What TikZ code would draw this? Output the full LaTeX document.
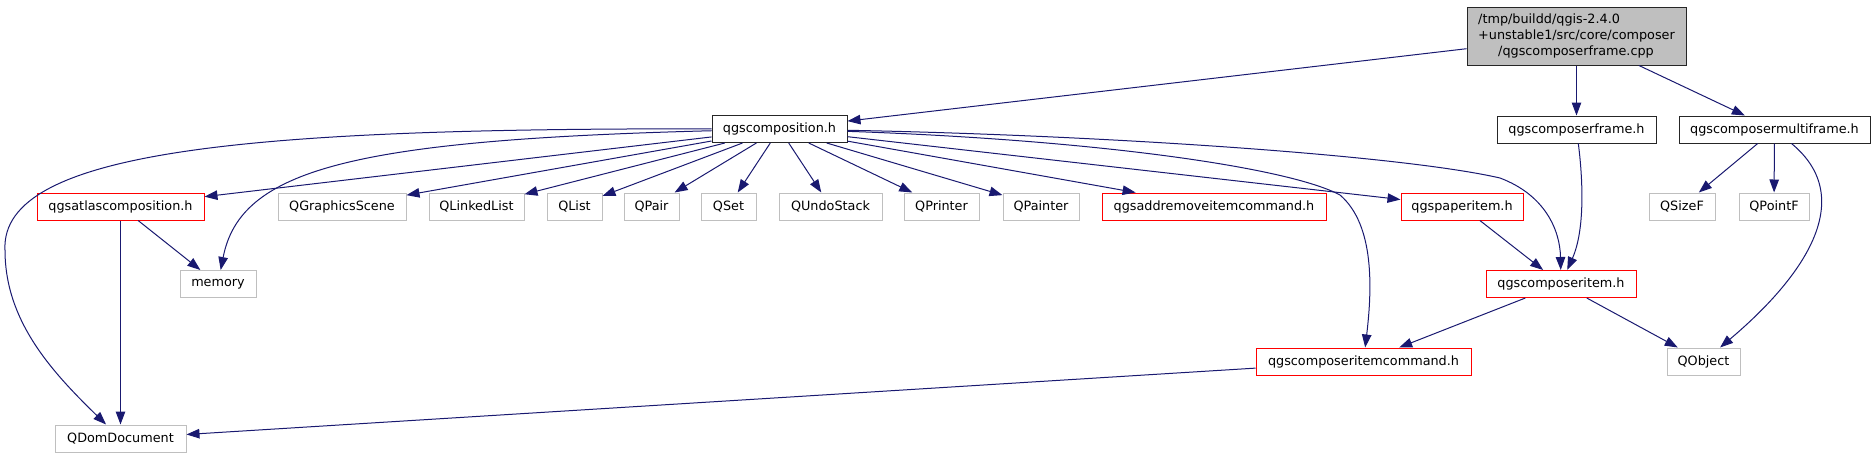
\documentclass[tikz,border=0pt]{standalone}
\usepackage{fontspec}
\setmainfont{DejaVu Sans}
\usepackage{xcolor}
\usepackage{tikz}
\usetikzlibrary{arrows.meta}
\definecolor{depblue}{RGB}{25,25,112}
\definecolor{sysgray}{RGB}{191,191,191}

\begin{document}
\begin{tikzpicture}[x=1pt, y=-1pt, >={Triangle[length=13pt,width=9.5pt]},
   inc/.style={draw=black!85, line width=1pt, fill=white, inner sep=0pt,
               minimum height=27pt, font=\fontsize{12.8}{16}\selectfont},
   incr/.style={inc, draw=red},
   sys/.style={inc, draw=sysgray},
   dep/.style={->, draw=depblue, line width=1pt}]
  \useasboundingbox (0,0) rectangle (1874,459);
  % top row
  \node[inc, fill=sysgray, minimum width=219pt, minimum height=58pt, align=left] (root) at (1576.5,36)
    {/tmp/buildd/qgis-2.4.0\\+unstable1/src/core/composer\\\hspace*{20pt}/qgscomposerframe.cpp};
  \node[inc, minimum width=135pt] (comp) at (779.5,129) {qgscomposition.h};
  \node[inc, minimum width=159pt] (cframe) at (1576.5,129.5) {qgscomposerframe.h};
  \node[inc, minimum width=191pt] (mframe) at (1774.5,129.5) {qgscomposermultiframe.h};
  % second row
  \node[incr, minimum width=167pt] (atlas) at (120.5,206.5) {qgsatlascomposition.h};
  \node[sys, minimum width=128pt] (gscene) at (342,206.5) {QGraphicsScene};
  \node[sys, minimum width=95pt] (llist) at (476.5,206.5) {QLinkedList};
  \node[sys, minimum width=55pt] (qlist) at (574.5,206.5) {QList};
  \node[sys, minimum width=55pt] (qpair) at (651.5,206.5) {QPair};
  \node[sys, minimum width=55pt] (qset) at (728.5,206.5) {QSet};
  \node[sys, minimum width=103pt] (undo) at (830.5,206.5) {QUndoStack};
  \node[sys, minimum width=75pt] (printer) at (941.5,206.5) {QPrinter};
  \node[sys, minimum width=76pt] (painter) at (1041,206.5) {QPainter};
  \node[incr, minimum width=224pt] (addrm) at (1214,206.5) {qgsaddremoveitemcommand.h};
  \node[incr, minimum width=122pt] (paper) at (1462,206.5) {qgspaperitem.h};
  \node[sys, minimum width=66pt] (sizef) at (1682,206.5) {QSizeF};
  \node[sys, minimum width=70pt] (pointf) at (1774,206.5) {QPointF};
  % lower rows
  \node[sys, minimum width=76pt] (mem) at (218,284) {memory};
  \node[incr, minimum width=150pt] (citem) at (1561,284) {qgscomposeritem.h};
  \node[incr, minimum width=215pt] (cicmd) at (1363.5,361.5) {qgscomposeritemcommand.h};
  \node[sys, minimum width=73pt] (qobj) at (1703.5,361.5) {QObject};
  \node[sys, minimum width=131pt] (dom) at (120.5,438.5) {QDomDocument};
  % edges
  \draw[dep] (root) -- (comp);
  \draw[dep] (root) -- (cframe);
  \draw[dep] (root) -- (mframe);
  \draw[dep] (comp) -- (atlas);
  \draw[dep] (comp) -- (gscene);
  \draw[dep] (comp) -- (llist);
  \draw[dep] (comp) -- (qlist);
  \draw[dep] (comp) -- (qpair);
  \draw[dep] (comp) -- (qset);
  \draw[dep] (comp) -- (undo);
  \draw[dep] (comp) -- (printer);
  \draw[dep] (comp) -- (painter);
  \draw[dep] (comp) -- (addrm);
  \draw[dep] (comp) -- (paper);
  \draw[dep] (comp) .. controls (250,128) and (0,150) .. (5,250) .. controls (5,320) and (50,370) .. (dom);
  \draw[dep] (comp) .. controls (350,140) and (240,170) .. (mem);
  \draw[dep] (comp) .. controls (1100,140) and (1290,168) .. (1340,195) .. controls (1375,225) and (1372,290) .. (cicmd);
  \draw[dep] (comp) .. controls (1100,135) and (1400,155) .. (1500,178) .. controls (1545,195) and (1560,230) .. (citem);
  \draw[dep] (cframe) .. controls (1583,180) and (1585,230) .. (citem);
  \draw[dep] (mframe) -- (sizef);
  \draw[dep] (mframe) -- (pointf);
  \draw[dep] (mframe) .. controls (1860,200) and (1800,280) .. (qobj);
  \draw[dep] (atlas) -- (mem);
  \draw[dep] (atlas) -- (dom);
  \draw[dep] (paper) -- (citem);
  \draw[dep] (citem) -- (cicmd);
  \draw[dep] (citem) -- (qobj);
  \draw[dep] (cicmd) -- (dom);
\end{tikzpicture}
\end{document}
